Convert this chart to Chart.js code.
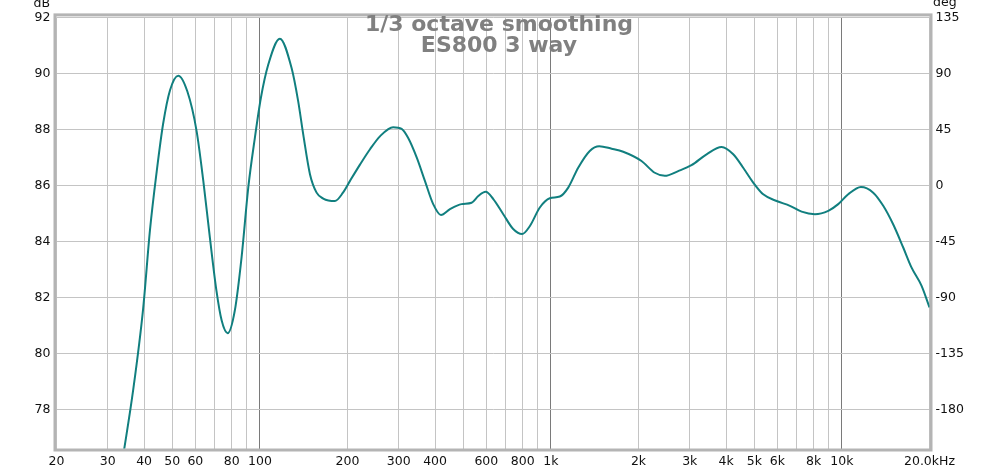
<!DOCTYPE html>
<html>
<head>
<meta charset="utf-8">
<script src="https://cdn.jsdelivr.net/npm/chart.js@4"></script>
<style>
  html, body { margin: 0; padding: 0; background: #fff; }
</style>
</head>
<body>
<canvas id="myChart" width="1000" height="471"></canvas>
<script>
// frequency (Hz) and level (dB)
const freqs = [33, 34.2, 36.7, 39.7, 41.9, 44.2, 46.5, 49.1, 52.4, 56.3, 60.6, 63.9, 67.3, 70.9, 73.9,
  77.5, 82, 86.5, 91.2, 96.1, 100.8, 106.8, 117.1, 128.5, 135.4, 140.9, 148.6, 156.6, 165, 181,
  193, 204, 221, 239, 259, 287, 307, 323, 346, 369, 394, 419, 450, 493, 534, 563, 597, 634, 686,
  742, 796, 847, 916, 991, 1073, 1147, 1241, 1360, 1466, 1617, 1772, 2048, 2275, 2463, 2738, 3042,
  3428, 3861, 4232, 4579, 4958, 5365, 5966, 6627, 7270, 8078, 8977, 9714, 10512, 11624, 12810,
  13868, 15000, 16245, 17340, 18770, 20000];
const spl = [75.6, 76.6, 78.7, 81.6, 84.4, 86.5, 88.2, 89.4, 89.92, 89.36, 87.94, 86.16, 84.14, 82.24, 81.17,
  80.72, 81.53, 83.43, 85.92, 87.7, 89.13, 90.31, 91.24, 90.19, 89.0, 87.82, 86.4, 85.74, 85.53, 85.44,
  85.74, 86.16, 86.75, 87.29, 87.76, 88.08, 88.02, 87.7, 86.99, 86.16, 85.33, 84.94, 85.15, 85.33, 85.38, 85.62, 85.77, 85.51, 84.97,
  84.44, 84.26, 84.55, 85.21, 85.54, 85.6, 85.92, 86.63, 87.23, 87.4, 87.31, 87.2, 86.87, 86.45, 86.34, 86.51, 86.72,
  87.11, 87.37, 87.11, 86.63, 86.1, 85.68, 85.44, 85.27, 85.06, 84.97, 85.09, 85.33, 85.68, 85.94, 85.74,
  85.27, 84.61, 83.78, 83.07, 82.42, 81.64];

const freqGrid = [20, 30, 40, 50, 60, 70, 80, 90, 100, 200, 300, 400, 500, 600, 700, 800, 900,
  1000, 2000, 3000, 4000, 5000, 6000, 7000, 8000, 9000, 10000, 20000];
const freqLabels = { 20: '20', 30: '30', 40: '40', 50: '50', 60: '60', 80: '80', 100: '100',
  200: '200', 300: '300', 400: '400', 600: '600', 800: '800', 1000: '1k', 2000: '2k', 3000: '3k',
  4000: '4k', 5000: '5k', 6000: '6k', 8000: '8k', 10000: '10k', 20000: '20.0kHz' };
const decades = [100, 1000, 10000];
const dbTicks = [78, 80, 82, 84, 86, 88, 90, 92];
const degTicks = [-180, -135, -90, -45, 0, 45, 90, 135];
const titleLines = ['1/3 octave smoothing', 'ES800 3 way'];

const tickFont = { family: 'DejaVu Sans', size: 12.5 };

const framePlugin = {
  id: 'frame',
  beforeDatasetsDraw(chart) {
    const { ctx, chartArea: a } = chart;
    ctx.save();
    ctx.strokeStyle = '#b4b4b4';
    ctx.lineWidth = 3;
    ctx.strokeRect(a.left - 1.5, a.top - 2.5, a.right - a.left + 3, a.bottom - a.top + 4);
    ctx.restore();
  },
  afterDraw(chart) {
    const { ctx } = chart;
    ctx.save();
    ctx.fillStyle = '#111';
    ctx.font = '12.5px "DejaVu Sans"';
    ctx.textBaseline = 'alphabetic';
    ctx.textAlign = 'right';
    ctx.fillText('dB', 50, 7);
    ctx.textAlign = 'left';
    ctx.fillText('deg', 933, 6);

    ctx.fillStyle = '#808080';
    ctx.font = 'bold 22px "DejaVu Sans"';
    ctx.textAlign = 'center';
    ctx.fillText(titleLines[0], 499, 31);
    ctx.fillText(titleLines[1], 499, 51.5);
    ctx.restore();
  }
};

new Chart(document.getElementById('myChart'), {
  type: 'line',
  data: {
    datasets: [{
      data: freqs.map((f, i) => ({ x: f, y: spl[i] })),
      borderColor: '#117f7f',
      borderWidth: 2,
      pointRadius: 0,
      cubicInterpolationMode: 'monotone',
      yAxisID: 'y'
    }]
  },
  options: {
    responsive: false,
    animation: false,
    devicePixelRatio: 1,
    layout: { padding: { top: 17.4 } },
    plugins: { legend: { display: false }, tooltip: { enabled: false } },
    scales: {
      x: {
        type: 'logarithmic',
        min: 20,
        max: 20000,
        afterBuildTicks: s => { s.ticks = freqGrid.map(v => ({ value: v })); },
        afterFit: s => { s.height = 22.5; },
        ticks: {
          autoSkip: false,
          maxRotation: 0,
          padding: 6,
          color: '#111',
          font: tickFont,
          callback: v => freqLabels[v] || ''
        },
        grid: {
          drawTicks: false,
          color: c => decades.includes(c.tick && c.tick.value) ? '#7a7a7a' : '#c4c4c4'
        },
        border: { display: false }
      },
      y: {
        position: 'left',
        min: 76.6,
        max: 92,
        afterBuildTicks: s => { s.ticks = dbTicks.map(v => ({ value: v })); },
        afterFit: s => { s.width = 56.5; },
        ticks: { padding: 6, color: '#111', font: tickFont },
        grid: { drawTicks: false, color: '#c4c4c4' },
        border: { display: false }
      },
      y2: {
        position: 'right',
        min: -211.5,
        max: 135,
        afterBuildTicks: s => { s.ticks = degTicks.map(v => ({ value: v })); },
        afterFit: s => { s.width = 70.5; },
        ticks: { padding: 6, color: '#111', font: tickFont },
        grid: { display: false, drawTicks: false },
        border: { display: false }
      }
    }
  },
  plugins: [framePlugin]
});
</script>
</body>
</html>
